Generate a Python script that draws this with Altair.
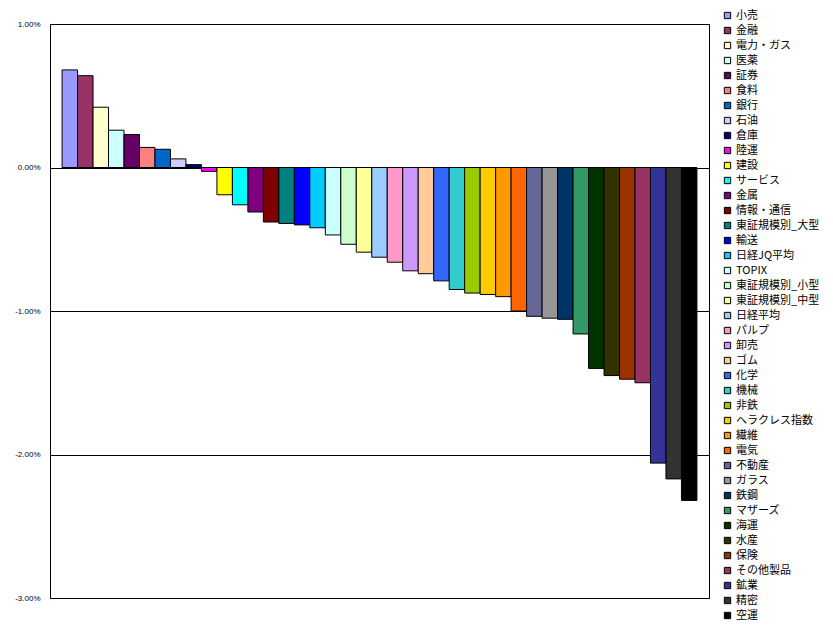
import altair as alt
import pandas as pd

categories = ["小売", "金融", "電力・ガス", "医薬", "証券", "食料", "銀行", "石油", "倉庫", "陸運",
              "建設", "サービス", "金属", "情報・通信", "東証規模別_大型", "輸送", "日経JQ平均", "TOPIX",
              "東証規模別_小型", "東証規模別_中型", "日経平均", "パルプ", "卸売", "ゴム", "化学", "機械",
              "非鉄", "ヘラクレス指数", "繊維", "電気", "不動産", "ガラス", "鉄鋼", "マザーズ", "海運",
              "水産", "保険", "その他製品", "鉱業", "精密", "空運"]
values = [0.68, 0.64, 0.42, 0.26, 0.23, 0.14, 0.127, 0.06, 0.02, -0.027,
          -0.19, -0.26, -0.31, -0.38, -0.39, -0.40, -0.42, -0.47,
          -0.535, -0.59, -0.625, -0.66, -0.72, -0.74, -0.79, -0.85,
          -0.875, -0.885, -0.90, -1.00, -1.037, -1.05, -1.058, -1.16, -1.40,
          -1.45, -1.475, -1.50, -2.06, -2.17, -2.32]
colors = ["#9999FF", "#993366", "#FFFFCC", "#CCFFFF", "#660066", "#FF8080", "#0066CC", "#CCCCFF", "#000080", "#FF00FF",
          "#FFFF00", "#00FFFF", "#800080", "#800000", "#008080", "#0000FF", "#00CCFF", "#CCFFFF",
          "#CCFFCC", "#FFFF99", "#99CCFF", "#FF99CC", "#CC99FF", "#FFCC99", "#3366FF", "#33CCCC",
          "#99CC00", "#FFCC00", "#FF9900", "#FF6600", "#666699", "#969696", "#003366", "#339966", "#003300",
          "#333300", "#993300", "#993366", "#333399", "#333333", "#000000"]
y_ticks = [-3, -2, -1, 0, 1]

df = pd.DataFrame({"cat": categories, "val": values})

chart = alt.Chart(df).mark_bar(stroke="black", strokeWidth=1).encode(
    x=alt.X("cat:N", sort=categories, axis=None,
            scale=alt.Scale(paddingInner=0, paddingOuter=0.78)),
    y=alt.Y("val:Q", scale=alt.Scale(domain=[-3, 1], nice=False, zero=False),
            axis=alt.Axis(values=y_ticks, title=None, grid=True, gridColor="black",
                          gridOpacity=1, gridWidth=1, domain=False, ticks=False,
                          labelPadding=10, labelFontSize=8, labelFont="Liberation Sans",
                          labelColor="black",
                          labelExpr="(datum.value < 0 ? '-' : '') + format(abs(datum.value), '.2f') + '%'")),
    color=alt.Color("cat:N", sort=categories,
                    scale=alt.Scale(domain=categories, range=colors),
                    legend=alt.Legend(title=None, orient="none", legendX=672, legendY=-14,
                                      symbolType="square", symbolSize=40, symbolStrokeColor="black",
                                      symbolStrokeWidth=1, symbolOpacity=1, labelFontSize=11,
                                      labelFont="Noto Sans CJK JP", labelColor="black",
                                      rowPadding=3, labelOffset=3, symbolLimit=100,
                                      labelLimit=200))
).properties(
    width=659, height=574,
    background="white",
    autosize=alt.AutoSizeParams(type="none"),
    padding={"left": 42, "top": 16, "right": 110, "bottom": 25},
).configure_view(stroke="black", strokeWidth=1)

chart.save("out.html", embed_options={"renderer": "svg", "actions": False})
